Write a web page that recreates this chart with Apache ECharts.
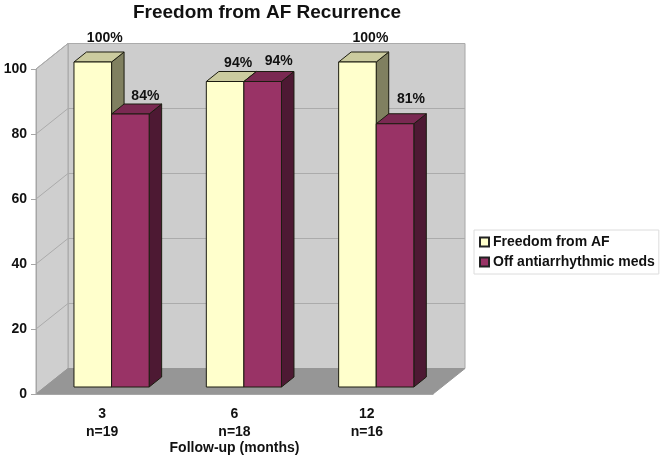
<!DOCTYPE html>
<html>
<head>
<meta charset="utf-8">
<style>
    html, body { margin: 0; padding: 0; background: #fff; }
    #chart { width: 665px; height: 461px; }
</style>
<script src="https://cdn.jsdelivr.net/npm/echarts@6/dist/echarts.min.js"></script>
</head>
<body>
<div id="chart"></div>
<script>
var categories = ['3\nn=19', '6\nn=18', '12\nn=16'];
var freedomValues = [100, 94, 100];
var offMedsValues = [84, 94, 81];
var yTicks = [0, 20, 40, 60, 80, 100];

// label nudges, the original labels were hand placed
var freedomNudge = [[-1, -4], [0, 2], [0, -4]];
var offMedsNudge = [[2, 2], [3, 0], [3, -5]];

var FONT = '"Liberation Sans", Arial, sans-serif';
var WALL_DX = 32, WALL_DY = -25.5;   // depth of the box
var BAR_DX = 9.4, BAR_DY = -7;       // bars stand this far inside the box
var TOP_DX = 12.5, TOP_DY = -10;     // depth of a bar
var BAR_RATIO = 0.284;

function poly(points, fill, stroke) {
    return {
        type: 'polygon',
        shape: { points: points },
        style: { fill: fill, stroke: stroke || null, lineWidth: 1 }
    };
}

function renderWalls(params, api) {
    var r = params.coordSys;
    var l = r.x, b = r.y + r.height, t = r.y, w = r.width;
    var kids = [
        // back wall, left wall, floor
        poly([[l + WALL_DX, t + WALL_DY], [l + w + WALL_DX, t + WALL_DY], [l + w + WALL_DX, b + WALL_DY], [l + WALL_DX, b + WALL_DY]], '#cdcdcd', '#a6a6a6'),
        poly([[l, t], [l + WALL_DX, t + WALL_DY], [l + WALL_DX, b + WALL_DY], [l, b]], '#cfcfcf', '#a6a6a6'),
        poly([[l, b], [l + WALL_DX, b + WALL_DY], [l + w + WALL_DX, b + WALL_DY], [l + w, b]], '#969696', '#969696')
    ];
    yTicks.forEach(function (v) {
        if (v === 0) return;
        var y = api.coord([0, v])[1];
        kids.push({
            type: 'polyline',
            shape: { points: [[l, y], [l + WALL_DX, y + WALL_DY], [l + w + WALL_DX, y + WALL_DY]] },
            style: { fill: null, stroke: '#ababab', lineWidth: 1 }
        });
    });
    return { type: 'group', children: kids };
}

function barRenderer(slot, front, top, side, nudge) {
    return function (params, api) {
        var cat = api.value(0), val = api.value(1);
        var catWidth = api.size([1, 0])[0];
        var bw = catWidth * BAR_RATIO;
        var pt = api.coord([cat, val]);
        var base = api.coord([cat, 0]);
        var x0 = pt[0] + BAR_DX + (slot - 1) * bw;
        var x1 = x0 + bw;
        var y0 = pt[1] + BAR_DY;
        var y1 = base[1] + BAR_DY;
        var n = nudge[cat];
        return {
            type: 'group',
            children: [
                poly([[x1, y0], [x1 + TOP_DX, y0 + TOP_DY], [x1 + TOP_DX, y1 + TOP_DY], [x1, y1]], side, '#1c1c10'),
                poly([[x0, y0], [x0 + TOP_DX, y0 + TOP_DY], [x1 + TOP_DX, y0 + TOP_DY], [x1, y0]], top, '#1c1c10'),
                poly([[x0, y0], [x1, y0], [x1, y1], [x0, y1]], front, '#1c1c10'),
                {
                    type: 'text',
                    style: {
                        text: val + '%',
                        x: x0 + bw / 2 + 13 + n[0],
                        y: y0 - 20 + n[1],
                        textAlign: 'center',
                        textVerticalAlign: 'middle',
                        font: 'bold 14px ' + FONT,
                        fill: '#111'
                    }
                }
            ]
        };
    };
}

function toPairs(values) {
    return values.map(function (v, i) { return [i, v]; });
}

var myChart = echarts.init(document.getElementById('chart'));

var option = {
    animation: false,
    backgroundColor: '#fff',
    title: {
        text: 'Freedom from AF Recurrence',
        left: 262,
        top: -2,
        textAlign: 'center',
        textStyle: { fontFamily: FONT, fontWeight: 'bold', fontSize: 19, color: '#111' }
    },
    legend: {
        orient: 'vertical',
        left: 474,
        top: 230,
        padding: [5, 4, 5, 5],
        itemGap: 6,
        itemWidth: 9,
        itemHeight: 9,
        borderColor: '#dcdcdc',
        borderWidth: 1,
        data: [
            { name: 'Freedom from AF', icon: 'rect' },
            { name: 'Off antiarrhythmic meds', icon: 'rect' }
        ],
        textStyle: { fontFamily: FONT, fontWeight: 'bold', fontSize: 14, color: '#111', padding: [0, 0, 0, -1] }
    },
    grid: { left: 36, top: 69, width: 397, height: 325, outerBoundsMode: 'none' },
    xAxis: {
        type: 'category',
        data: categories,
        name: 'Follow-up (months)',
        nameLocation: 'middle',
        nameGap: 47,
        nameMoveOverlap: false,
        nameTextStyle: { fontFamily: FONT, fontWeight: 'bold', fontSize: 14, color: '#111' },
        axisLine: { lineStyle: { color: '#a6a6a6' } },
        axisTick: { length: 6, lineStyle: { color: '#a6a6a6' } },
        axisLabel: { fontFamily: FONT, fontWeight: 'bold', fontSize: 14, color: '#111', margin: 11, lineHeight: 18 }
    },
    yAxis: {
        type: 'value',
        min: 0,
        max: 100,
        interval: 20,
        splitLine: { show: false },
        axisLine: { show: true, lineStyle: { color: '#a6a6a6' } },
        axisTick: { show: true, length: 5, lineStyle: { color: '#a6a6a6' } },
        axisLabel: { fontFamily: FONT, fontWeight: 'bold', fontSize: 14, color: '#111', margin: 9 }
    },
    series: [
        {
            name: 'walls',
            type: 'custom',
            silent: true,
            z: 0,
            clip: false,
            renderItem: renderWalls,
            data: [[0, 0]]
        },
        {
            name: 'Freedom from AF',
            type: 'custom',
            z: 3,
            clip: false,
            itemStyle: { color: '#ffffcc', borderColor: '#222', borderWidth: 1 },
            renderItem: barRenderer(0, '#ffffcc', '#cbcb9f', '#808060', freedomNudge),
            encode: { x: 0, y: 1 },
            data: toPairs(freedomValues)
        },
        {
            name: 'Off antiarrhythmic meds',
            type: 'custom',
            z: 4,
            clip: false,
            itemStyle: { color: '#993366', borderColor: '#222', borderWidth: 1 },
            renderItem: barRenderer(1, '#993366', '#7a2952', '#4d1933', offMedsNudge),
            encode: { x: 0, y: 1 },
            data: toPairs(offMedsValues)
        }
    ]
};

myChart.setOption(option);
window.addEventListener('resize', function () {
    myChart.resize();
});
</script>
</body>
</html>
